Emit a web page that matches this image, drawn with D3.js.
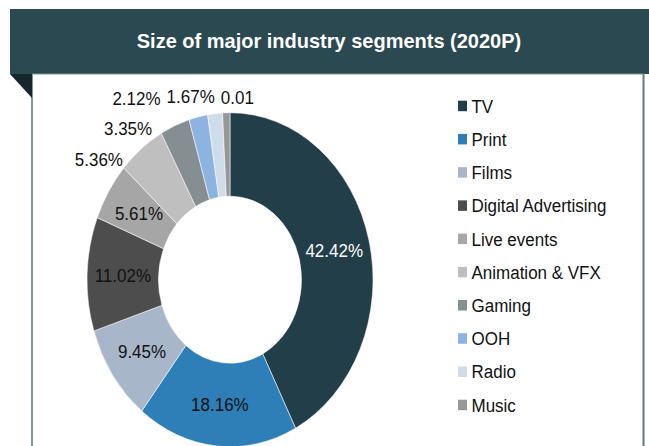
<!DOCTYPE html>
<html>
<head>
<meta charset="utf-8">
<script src="https://cdn.jsdelivr.net/npm/d3@7"></script>
<style>
  html, body { margin: 0; padding: 0; background: #ffffff; }
  svg { display: block; font-family: "Liberation Sans", Arial, sans-serif; }
</style>
</head>
<body>
<svg id="chart" width="649" height="446"></svg>
<script>
// ---- data ----
const title = "Size of major industry segments (2020P)";
const categories = ["TV", "Print", "Films", "Digital Advertising", "Live events", "Animation & VFX", "Gaming", "OOH", "Radio", "Music"];
const shares = [42.42, 18.16, 9.45, 11.02, 5.61, 5.36, 3.35, 2.12, 1.67, 0.83];
const valueLabels = ["42.42%", "18.16%", "9.45%", "11.02%", "5.61%", "5.36%", "3.35%", "2.12%", "1.67%", "0.01"];
const colors = ["#223e48", "#2e7fb8", "#a7b7c9", "#4d4d4d", "#a6a6a6", "#bfbfbf", "#858f92", "#8db4e0", "#cfdcea", "#979797"];

// ---- layout ----
const W = 649, H = 446;
const svg = d3.select("#chart");
const cx = 230, cy = 279.7, rOuter = 143, rInner = 71.5, ky = 1.168; // donut is drawn as an ellipse
const textK = 1.12;

// panel
svg.append("rect").attr("x", 32).attr("y", 74).attr("width", 611).attr("height", H - 74).attr("fill", "#ffffff");
svg.append("line").attr("x1", 32).attr("x2", 32).attr("y1", 74).attr("y2", H).attr("stroke", "#5a727b").attr("stroke-width", 1.5);
svg.append("line").attr("x1", 643.5).attr("x2", 643.5).attr("y1", 74).attr("y2", H).attr("stroke", "#5f7a84").attr("stroke-width", 2);
// header
svg.append("rect").attr("x", 10).attr("y", 9).attr("width", W - 10).attr("height", 65).attr("fill", "#2a4950");
svg.append("line").attr("x1", 32).attr("x2", 644).attr("y1", 74).attr("y2", 74).attr("stroke", "#7f9399").attr("stroke-width", 1);
svg.append("path").attr("d", "M10,74 L32,74 L32,98 Z").attr("fill", "#15272c");
svg.append("text")
  .attr("transform", `translate(329,48) scale(1,1.05)`)
  .attr("text-anchor", "middle")
  .attr("fill", "#ffffff")
  .attr("font-size", 20)
  .attr("font-weight", "bold")
  .text(title);

// donut
const data = categories.map((c, i) => ({ cat: c, value: shares[i], label: valueLabels[i], color: colors[i] }));
const pie = d3.pie().value(d => d.value).sort(null);
const arcs = pie(data);
const arc = d3.arc().innerRadius(rInner).outerRadius(rOuter);

const g = svg.append("g").attr("transform", `translate(${cx},${cy}) scale(1,${ky})`);
g.selectAll("path").data(arcs).join("path")
  .attr("d", arc)
  .attr("fill", d => d.data.color)
  .attr("stroke", "#ffffff")
  .attr("stroke-width", 0.5);

const labelSize = 17;
const insideArcs = arcs.filter(d => d.data.value >= 5.5);
const outsideArcs = arcs.filter(d => d.data.value < 5.5);

insideArcs.forEach(d => {
  const c = arc.centroid(d);
  const x = cx + c[0], y = cy + c[1] * ky;
  svg.append("text")
    .attr("transform", `translate(${x},${y}) scale(1,${textK})`)
    .attr("dy", "0.35em")
    .attr("text-anchor", "middle")
    .attr("font-size", labelSize)
    .attr("fill", d.data.cat === "TV" ? "#ffffff" : "#111111")
    .text(d.data.label);
});

// outside labels ("outside end" with collision avoidance)
function ringPos(a) {
  const r = 156 + 14 * Math.abs(Math.sin(a)); // wider boxes sit further out at the sides
  return [cx + r * Math.sin(a), cy - r * Math.cos(a) * ky];
}
const gapX = 6, gapY = 11;
const measure = svg.append("text").attr("font-size", labelSize).attr("visibility", "hidden");
const outs = outsideArcs.map(d => {
  measure.text(d.data.label);
  const a = (d.startAngle + d.endAngle) / 2;
  const p = ringPos(a);
  return { d, a, x: p[0], y: p[1], w: measure.node().getComputedTextLength(), h: labelSize * textK, top: Math.abs(Math.cos(a)) > 0.95 };
});
measure.remove();
const overlap = (p, q) => Math.abs(p.x - q.x) < (p.w + q.w) / 2 + gapX && Math.abs(p.y - q.y) < (p.h + q.h) / 2 + gapY;
const n = outs.length;
for (let j = n - 2; j >= 0; j--) {
  const o = outs[j], nb = outs[j + 1];
  if (!overlap(o, nb)) continue;
  if (o.top) {
    // labels across the top: slide sideways in a row
    const need = (o.w + nb.w) / 2 + gapX - (nb.x - o.x);
    if (j + 1 === n - 1) { nb.x += need / 3; o.x -= need * 2 / 3; }
    else o.x -= need;
  } else {
    // labels on the side: slide counter-clockwise along the ring
    let guard = 0;
    while (overlap(o, nb) && guard++ < 3000) {
      o.a -= 0.002;
      const p = ringPos(o.a); o.x = p[0]; o.y = p[1];
    }
  }
}
outs.forEach(o => {
  svg.append("text")
    .attr("transform", `translate(${o.x},${o.y}) scale(1,${textK})`)
    .attr("dy", "0.35em")
    .attr("text-anchor", "middle")
    .attr("font-size", labelSize)
    .attr("fill", "#111111")
    .text(o.d.data.label);
});

// legend
const legendY = d3.scalePoint().domain(categories).range([112.7, 411.7]);
const lg = svg.append("g");
categories.forEach((c, i) => {
  const y = legendY(c);
  lg.append("rect").attr("x", 458).attr("y", y - 12).attr("width", 9).attr("height", 10.5).attr("fill", colors[i]);
  lg.append("text")
    .attr("transform", `translate(471.5,${y}) scale(1,${textK})`)
    .attr("font-size", labelSize)
    .attr("fill", "#111111")
    .text(c);
});
</script>
</body>
</html>
